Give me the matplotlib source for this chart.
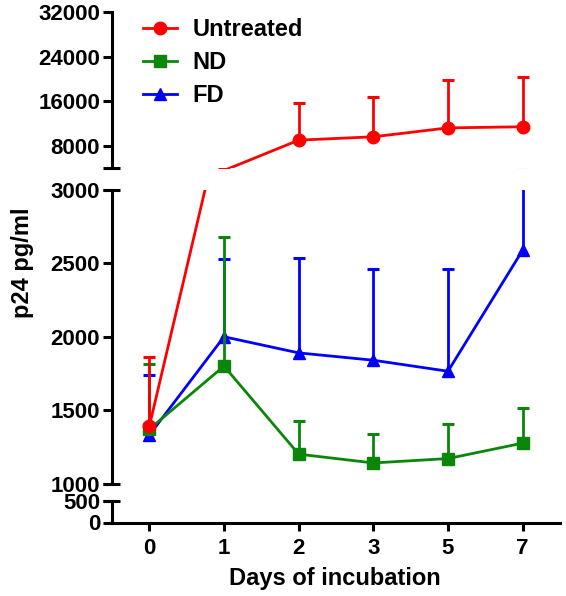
import numpy as np
import matplotlib
matplotlib.use('Agg')
import matplotlib.pyplot as plt
from matplotlib.lines import Line2D

plt.rcParams['font.family'] = ['Liberation Sans', 'DejaVu Sans']
plt.rcParams['font.weight'] = 'bold'

# Data (upper error bar only)
days = ['0', '1', '2', '3', '5', '7']
untreated_mean = [1390, 3550, 9000, 9600, 11200, 11400]
untreated_sd = [470, 350, 6700, 7200, 8600, 9000]
nd_mean = [1370, 1800, 1200, 1140, 1170, 1275]
nd_sd = [443, 881, 225, 198, 238, 239]
fd_mean = [1330, 2000, 1890, 1840, 1765, 2590]
fd_sd = [408, 527, 644, 623, 694, 1000]

top_ticks = [8000, 16000, 24000, 32000]
mid_ticks = [1000, 1500, 2000, 2500, 3000]
bot_ticks = [0, 500]

fig = plt.figure(figsize=(5.66, 5.96), dpi=100)
L, W = 112 / 566, 448 / 566
ax_top = fig.add_axes([L, 1 - 168 / 596, W, 156 / 596])
ax_mid = fig.add_axes([L, 1 - 483.5 / 596, W, 293.5 / 596])
ax_bot = fig.add_axes([L, 1 - 522.5 / 596, W, 21.5 / 596])
axes = [ax_top, ax_mid, ax_bot]
limits = {ax_top: (4000, 32000), ax_mid: (1000, 3000), ax_bot: (0, 500)}

x = np.arange(len(days))
series = [
    ('FD', fd_mean, fd_sd, '#0000ff', '^', 9),
    ('ND', nd_mean, nd_sd, '#0a870a', 's', 8),
    ('Untreated', untreated_mean, untreated_sd, '#ff0000', 'o', 9),
]

for ax in axes:
    lo, hi = limits[ax]
    for name, mean, sd, color, marker, ms in series:
        upper = np.array(mean) + np.array(sd)
        # only mark points that sit inside this segment (like the broken axis in the original)
        shown = [i for i, m in enumerate(mean) if lo <= m <= hi]
        ax.vlines(x, mean, upper, color=color, lw=2)
        ax.plot(x, upper, ls='none', marker='_', ms=9, mew=2.2, color=color)
        ax.plot(x, mean, color=color, lw=2, marker=marker, ms=ms, markevery=shown)
    ax.set_xlim(-0.5, 5.5)
    ax.set_ylim(lo, hi)
    for s in ['top', 'right']:
        ax.spines[s].set_visible(False)
    ax.spines['left'].set_linewidth(2.2)
    ax.tick_params(axis='y', length=6.5, width=2.2, labelsize=16, pad=2)
    ax.set_facecolor('none')

ax_top.set_yticks(top_ticks)
ax_mid.set_yticks(mid_ticks)
ax_bot.set_yticks(bot_ticks)

for ax in [ax_top, ax_mid]:
    ax.spines['bottom'].set_visible(False)
    ax.set_xticks([])

ax_bot.spines['bottom'].set_linewidth(2.2)
ax_bot.set_xticks(x)
ax_bot.set_xticklabels(days)
ax_bot.tick_params(axis='x', length=6, width=2.2, labelsize=16, pad=5)

# break caps on the y axis
for ax, yv in [(ax_top, 4000), (ax_mid, 1000), (ax_mid, 3000), (ax_bot, 500)]:
    ax.plot([-0.02, 0.018], [yv, yv], transform=ax.get_yaxis_transform(),
            color='k', lw=2.2, clip_on=False, solid_capstyle='butt')

handles = [Line2D([], [], color=c, lw=2, marker=m, ms=ms)
           for _, _, _, c, m, ms in series[::-1]]
labels = [s[0] for s in series[::-1]]
ax_top.legend(handles, labels,
              loc='upper left', bbox_to_anchor=(143 / 566, 1 - 18 / 596),
              bbox_transform=fig.transFigure, frameon=False, fontsize=17,
              borderpad=0, borderaxespad=0, handlelength=1.45,
              handletextpad=0.65, labelspacing=0.43)

fig.text(22 / 566, 1 - 263 / 596, 'p24 pg/ml', rotation=90, ha='center',
         va='center', fontsize=17, fontweight='bold')
fig.text(335 / 566, 1 - 578 / 596, 'Days of incubation', ha='center',
         va='center', fontsize=17, fontweight='bold')

fig.savefig('out.png', dpi=100)
